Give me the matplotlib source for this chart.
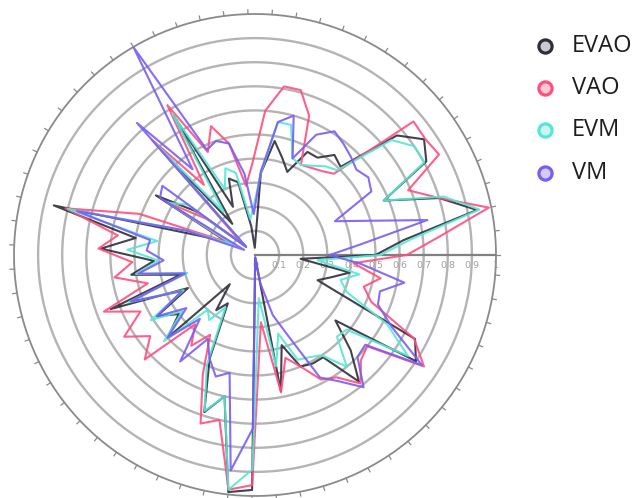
import numpy as np
import matplotlib.pyplot as plt
from matplotlib.lines import Line2D

# one value every 0.1 rad, counter-clockwise from east
theta = np.arange(63) * 0.1

evao = [0.50, 0.62, 0.94, 0.80, 0.58, 0.81, 0.85, 0.77, 0.51, 0.53,
        0.48, 0.48, 0.37, 0.42, 0.48, 0.34, 0.03, 0.12, 0.31, 0.335,
        0.22, 0.67, 0.16, 0.60, 0.05, 0.30, 0.48, 0.13, 0.23, 0.86,
        0.50, 0.64, 0.42, 0.52, 0.32, 0.64, 0.31, 0.48, 0.40, 0.50,
        0.16, 0.28, 0.23, 0.47, 0.685, 0.60, 0.99, 0.975, 0.01, 0.575,
        0.39, 0.50, 0.51, 0.51, 0.68, 0.56, 0.43, 0.80, 0.75, 0.28,
        0.33, 0.40, 0.19]

vao = [0.63, 0.77, 0.99, 0.80, 0.69, 0.87, 0.855, 0.86, 0.47, 0.445,
       0.43, 0.42, 0.62, 0.71, 0.71, 0.60, 0.38, 0.29, 0.475, 0.565,
       0.47, 0.72, 0.36, 0.64, 0.08, 0.25, 0.42, 0.12, 0.51, 0.81,
       0.575, 0.65, 0.51, 0.59, 0.46, 0.67, 0.53, 0.64, 0.55, 0.63,
       0.38, 0.46, 0.38, 0.54, 0.735, 0.70, 0.98, 0.955, 0.28, 0.58,
       0.445, 0.50, 0.585, 0.61, 0.69, 0.62, 0.60, 0.84, 0.745, 0.52,
       0.47, 0.53, 0.41]

evm = [0.52, 0.65, 0.95, 0.82, 0.58, 0.80, 0.80, 0.74, 0.49, 0.47,
       0.44, 0.42, 0.43, 0.56, 0.56, 0.34, 0.20, 0.15, 0.35, 0.38,
       0.30, 0.68, 0.22, 0.62, 0.05, 0.35, 0.42, 0.10, 0.30, 0.80,
       0.41, 0.53, 0.40, 0.50, 0.29, 0.56, 0.33, 0.51, 0.38, 0.52,
       0.30, 0.33, 0.25, 0.50, 0.68, 0.60, 0.98, 0.89, 0.18, 0.47,
       0.34, 0.47, 0.48, 0.50, 0.60, 0.48, 0.49, 0.76, 0.62, 0.41,
       0.37, 0.44, 0.26]

vm = [0.31, 0.44, 0.73, 0.48, 0.36, 0.55, 0.57, 0.55, 0.57, 0.59,
      0.61, 0.56, 0.43, 0.60, 0.56, 0.35, 0.17, 0.34, 0.475, 0.50,
      0.48, 1.00, 0.44, 0.735, 0.05, 0.48, 0.46, 0.05, 0.30, 0.76,
      0.44, 0.45, 0.38, 0.49, 0.30, 0.55, 0.34, 0.48, 0.36, 0.50,
      0.35, 0.54, 0.40, 0.47, 0.53, 0.50, 0.90, 0.72, 0.01, 0.12,
      0.26, 0.36, 0.575, 0.63, 0.71, 0.60, 0.59, 0.83, 0.64, 0.55,
      0.54, 0.63, 0.44]

names = ['EVAO', 'VAO', 'EVM', 'VM']
series = [evao, vao, evm, vm]
colors = ['#2e2e3c', '#ff4f7e', '#55e6d6', '#7a5cf5']
fills = ['#c9c9d2', '#ffc9d6', '#c9f6f0', '#d3cbfb']

r_ticks = [0.1, 0.2, 0.3, 0.4, 0.5, 0.6, 0.7, 0.8, 0.9]
r_labels = ['0', '0.1', '0.2', '0.3', '0.4', '0.5', '0.6', '0.7', '0.8', '0.9', '1']

fig = plt.figure(figsize=(6.43, 4.98), dpi=100)
ax = fig.add_axes([14 / 643, 2 / 498, 482 / 643, 482 / 498], projection='polar')
ax.set_ylim(0, 1)
ax.set_xticks([])
ax.set_yticks([])
ax.grid(False)
ax.spines['polar'].set_visible(False)

circ = np.linspace(0, 2 * np.pi, 400)
for r in r_ticks:
    ax.plot(circ, np.full_like(circ, r), color='#b4b4b4', lw=1.7, zorder=1)
ax.plot(circ, np.ones_like(circ), color='#8a8a8a', lw=1.3, zorder=1, clip_on=False)

# small ticks around the rim
for t in theta:
    ax.plot([t, t], [1.0, 1.018], color='#8a8a8a', lw=0.9, clip_on=False, zorder=1)

# radial axis with its labels
ax.plot([0, 0], [0, 1], color='#808080', lw=1.6, zorder=2)
for i, lab in enumerate(r_labels):
    ax.annotate(lab, xy=(0, i / 10), xytext=(0, -7.5), textcoords='offset points',
                ha='center', va='center', fontsize=6.8, color='#a0a0a0')

for vals, col in zip(series, colors):
    t = np.append(theta, theta[0])
    v = np.append(vals, vals[0])
    ax.plot(t, v, color=col, lw=1.5, alpha=0.9, zorder=3)

# legend
ys = [46, 88, 130, 173]
for name, col, fc, y in zip(names, colors, fills, ys):
    fy = 1 - y / 498
    fig.add_artist(Line2D([545 / 643], [fy], transform=fig.transFigure, marker='o',
                          markersize=9.5, markeredgewidth=2.3, markeredgecolor=col,
                          markerfacecolor=fc, linestyle='none'))
    fig.text(572 / 643, fy, name, fontsize=17, family='Open Sans', color='#1e1e1e',
             va='center', ha='left')

fig.savefig('out.png', dpi=100)
